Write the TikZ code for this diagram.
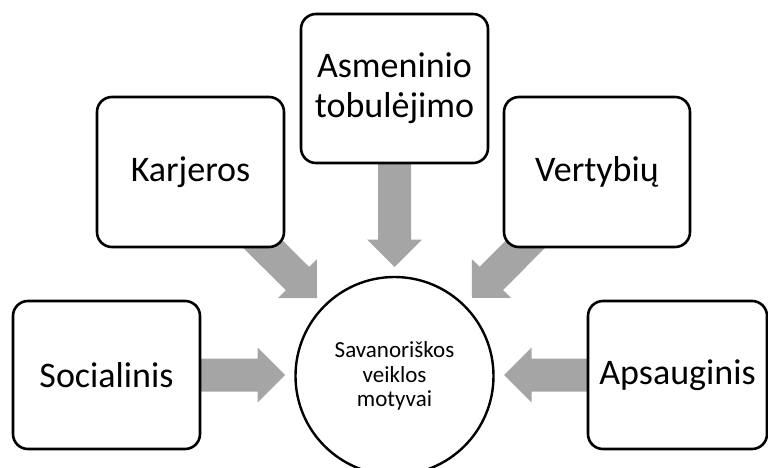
\documentclass[tikz,border=0pt]{standalone}
\usepackage{fontspec}
\setmainfont{Carlito}
\usetikzlibrary{calc,backgrounds}
\definecolor{arrowgray}{HTML}{A5A5A5}
\tikzset{
  box/.style={draw=black, line width=2.6pt, rounded corners=15pt, fill=white,
    inner sep=0pt, align=center, font=\fontsize{36}{44}\selectfont},
  hub/.style={circle, draw=black, line width=2.4pt, fill=white,
    minimum size=198pt, inner sep=0pt, align=center,
    font=\fontsize{23}{24.5}\selectfont},
  blockfill/.style={fill=arrowgray, draw=none}
}
\newcommand\blockarr[2]{%
  \coordinate (hb) at ($(#2)!27.5pt!(#1)$);
  \fill[blockfill] ($(#1)!16.5pt!90:(#2)$) -- ($(hb)!16.5pt!90:(#2)$)
    -- ($(hb)!27.5pt!90:(#2)$) -- (#2) -- ($(hb)!27.5pt!-90:(#2)$)
    -- ($(hb)!16.5pt!-90:(#2)$) -- ($(#1)!16.5pt!-90:(#2)$) -- cycle;
}
\begin{document}
\begin{tikzpicture}[x=1pt,y=-1pt]
\useasboundingbox (0,0) rectangle (768,468);
% nodes
\node[box, minimum width=187pt, minimum height=150pt] (kar) at (190.5,172) {Karjeros};
\node[box, minimum width=187pt, minimum height=149pt,
      font=\fontsize{36}{40}\selectfont] (asm) at (394.5,88.5) {Asmeninio\\tobulėjimo};
\node[box, minimum width=186pt, minimum height=150pt] (ver) at (597,172) {Vertybių};
\node[box, minimum width=187pt, minimum height=148pt] (soc) at (106.5,375) {Socialinis};
\node[box, minimum width=179pt, minimum height=148pt] (aps) at (677.5,375) {Apsauginis};
\node[hub] (hub) at (394.5,376) {Savanoriškos\\veiklos\\motyvai};
% arrow tips
\coordinate (tk) at (317,298);
\coordinate (tv) at (472,298);
\coordinate (ta) at (394.5,267);
\coordinate (ts) at (285,375);
\coordinate (tp) at (504,375);
\begin{scope}[on background layer]
  \fill[white] (0,0) rectangle (768,468);
  \blockarr{kar.center}{tk}
  \blockarr{ver.center}{tv}
  \blockarr{asm.center}{ta}
  \blockarr{soc.center}{ts}
  \blockarr{aps.center}{tp}
\end{scope}
\end{tikzpicture}
\end{document}
